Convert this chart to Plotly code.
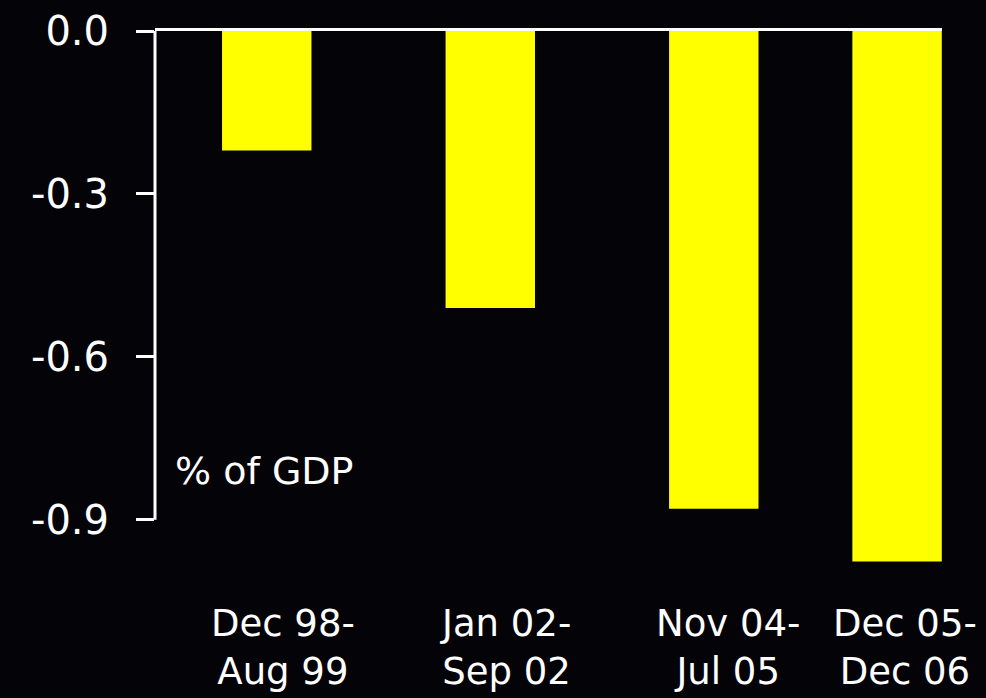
import plotly.graph_objects as go

categories = ["Dec 98-Aug 99", "Jan 02-Sep 02", "Nov 04-Jul 05", "Dec 05-Dec 06"]
label_lines = ["Dec 98-<br>Aug 99", "Jan 02-<br>Sep 02", "Nov 04-<br>Jul 05", "Dec 05-<br>Dec 06"]
values = [-0.22, -0.51, -0.88, -0.977]
ytick_vals = [0.0, -0.3, -0.6, -0.9]
ytick_text = ["0.0", "-0.3", "-0.6", "-0.9"]
unit_label = "% of GDP"

BG = "#040308"
FONT = "DejaVu Sans"

fig = go.Figure()
fig.add_trace(go.Bar(
    x=categories, y=values,
    marker=dict(color="#FFFF00", line=dict(width=0)),
    width=0.4,
    offset=[-0.2, -0.2, -0.2, -0.38],
    hoverinfo="skip",
))

# x labels as annotations below the plot
label_xshift = [16, 15, 14, -32]
for cat, lab, xs in zip(categories, label_lines, label_xshift):
    fig.add_annotation(x=cat, xref="x", y=0, yref="paper", yshift=-73,
                       text=lab, showarrow=False, xanchor="center", yanchor="middle",
                       xshift=xs, font=dict(family=FONT, size=37, color="white"))

fig.add_annotation(x=0, xref="paper", y=-0.81, yref="y", text=unit_label,
                   showarrow=False, xanchor="left", yanchor="middle", xshift=18,
                   font=dict(family=FONT, size=38, color="white"))

# vertical axis line from 0 to -0.9
fig.add_shape(type="line", xref="x domain", x0=0, x1=0, yref="y",
              y0=ytick_vals[0], y1=ytick_vals[-1],
              line=dict(color="white", width=3), layer="above")

fig.update_layout(
    width=986, height=698,
    paper_bgcolor=BG, plot_bgcolor=BG,
    margin=dict(l=155, r=44, t=31, b=124, autoexpand=False),
    showlegend=False,
    bargap=0.6,
    xaxis=dict(
        type="category", range=[-0.5, 3.021], side="top",
        showline=True, linecolor="white", linewidth=3,
        showgrid=False, zeroline=False, automargin=False,
        tickmode="array", tickvals=[0.5, 1.5, 2.5], ticktext=["", "", ""],
        ticks="inside", ticklen=12, tickwidth=3, tickcolor=BG,
        showticklabels=False,
    ),
    yaxis=dict(
        range=[-1.0, 0.0], showline=False, showgrid=False, zeroline=False,
        automargin=False,
        tickmode="array", tickvals=ytick_vals, ticktext=ytick_text,
        ticks="outside", ticklen=18, tickwidth=3, tickcolor="white",
        tickfont=dict(family=FONT, size=40, color="white"),
        ticklabelstandoff=19,
    ),
)

fig.write_html(
    "out.html",
    config={"displayModeBar": False},
    post_script="document.body.style.margin='0';document.body.style.background='%s';" % BG,
)
